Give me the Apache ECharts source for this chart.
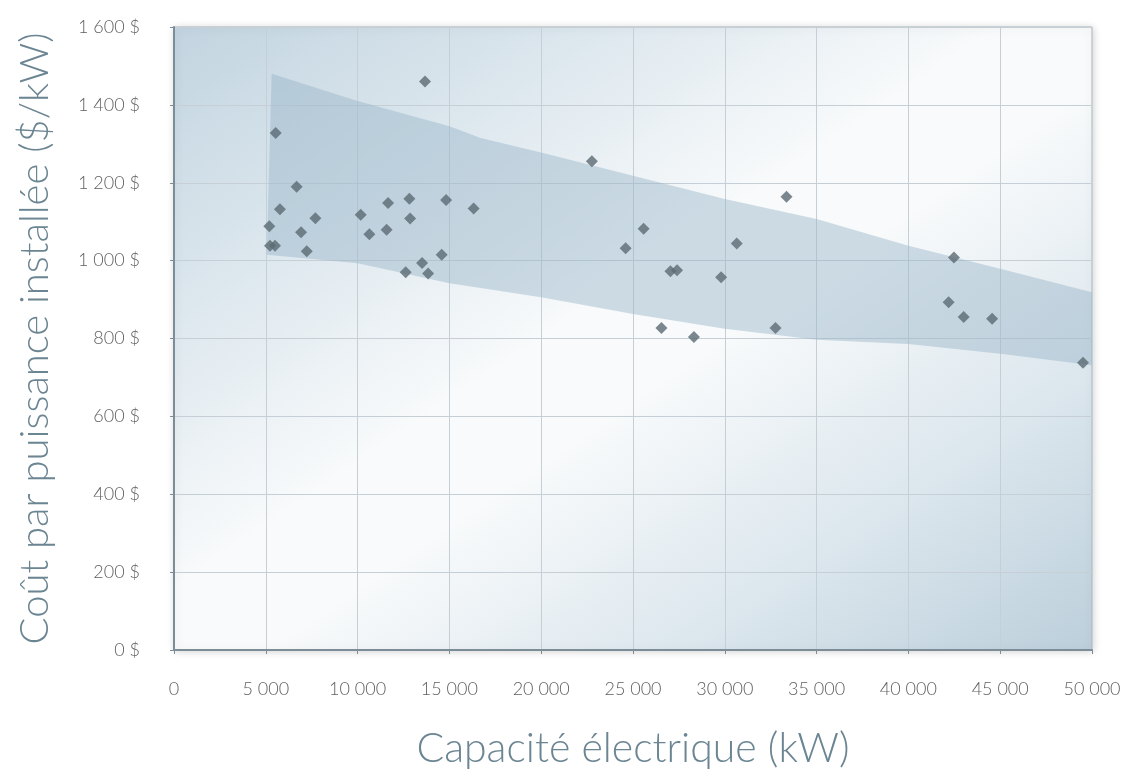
<!DOCTYPE html>
<html>
<head>
<meta charset="utf-8">
<script src="https://cdn.jsdelivr.net/npm/echarts@6/dist/echarts.min.js"></script>
<style>
html,body{margin:0;padding:0;background:#fff;}
#chart{width:1127px;height:781px;}
</style>
</head>
<body>
<div id="chart"></div>
<script>
// Scatter data: capacity (kW) and cost ($/kW)
const capacity = [13670, 5540, 6680, 5770, 5190, 5230, 5500, 6920, 7230, 7700,
  10170, 10640, 11660, 11580, 12820, 12860, 12620, 13510, 13840, 14580, 14820, 16320,
  22760, 25580, 24600, 27040, 27400, 26550, 28320, 29800, 30650, 33360, 32760,
  42480, 42190, 43010, 44560, 49510];
const cost = [1460, 1328, 1190, 1132, 1088, 1038, 1038, 1073, 1024, 1109,
  1118, 1068, 1148, 1079, 1159, 1108, 970, 994, 967, 1015, 1156, 1134,
  1255, 1082, 1032, 973, 975, 827, 804, 957, 1044, 1164, 827,
  1008, 893, 855, 851, 738];

// Band (range) edges
const bandUpperX = [5320, 10000, 15000, 16700, 20000, 25000, 30000, 35000, 40000, 45000, 50000];
const bandUpperY = [1480, 1410, 1345, 1315, 1278, 1218, 1158, 1107, 1038, 979, 919];
const bandLowerX = [5050, 10000, 15000, 20000, 25000, 30000, 35000, 40000, 45000, 50000];
const bandLowerY = [1015, 993, 942, 906, 863, 825, 797, 786, 761, 731];

// Axis ticks
const xTicks = [0, 5000, 10000, 15000, 20000, 25000, 30000, 35000, 40000, 45000, 50000];
const yTicks = [0, 200, 400, 600, 800, 1000, 1200, 1400, 1600];

const fmtSp = v => String(v).replace(/\B(?=(\d{3})+(?!\d))/g, ' ');

const scatterData = capacity.map((c, i) => [c, cost[i]]);
const bandPoly = bandUpperX.map((x, i) => [x, bandUpperY[i]])
  .concat(bandLowerX.map((x, i) => [x, bandLowerY[i]]).reverse());

const chart = echarts.init(document.getElementById('chart'), null, {renderer: 'canvas'});
const fontFam = 'Lato, "Open Sans", sans-serif';
chart.setOption({
  animation: false,
  grid: {
    left: 174, top: 27, right: 35, bottom: 131,
    show: true,
    borderColor: '#a9b6bf',
    borderWidth: 1,
    shadowColor: 'rgba(0,0,0,0.18)',
    shadowBlur: 8,
    shadowOffsetX: 1,
    shadowOffsetY: 1,
    backgroundColor: {
      type: 'linear', x: 0, y: 0, x2: 0.632, y2: 1.368,
      colorStops: [
        {offset: 0, color: '#c2d4e0'},
        {offset: 0.22, color: '#dbe6ed'},
        {offset: 0.45, color: '#f8fafb'},
        {offset: 0.55, color: '#f8fafb'},
        {offset: 0.78, color: '#dbe6ed'},
        {offset: 1, color: '#bccfdb'}
      ]
    }
  },
  xAxis: {
    type: 'value', min: 0, max: 50000, interval: 5000,
    axisLine: {show: true, onZero: false, lineStyle: {color: '#7d8d97', width: 2}},
    axisTick: {show: true, length: 4, lineStyle: {color: '#7d8d97'}},
    splitLine: {show: true, lineStyle: {color: '#c6cfd5', width: 1}},
    axisLabel: {color: '#606060', fontSize: 18, fontFamily: fontFam, fontWeight: 300, margin: 30,
      formatter: v => fmtSp(v)},
    name: 'Capacité électrique (kW)',
    nameLocation: 'middle',
    nameGap: 78,
    nameTextStyle: {color: '#6b8592', fontSize: 41, fontFamily: fontFam, fontWeight: 300}
  },
  yAxis: {
    type: 'value', min: 0, max: 1600, interval: 200,
    axisLine: {show: true, onZero: false, lineStyle: {color: '#7d8d97', width: 2}},
    axisTick: {show: true, length: 4, lineStyle: {color: '#7d8d97'}},
    splitLine: {show: true, lineStyle: {color: '#c6cfd5', width: 1}},
    axisLabel: {color: '#606060', fontSize: 18, fontFamily: fontFam, fontWeight: 300, margin: 34,
      formatter: v => fmtSp(v) + ' $'},
    name: 'Coût par puissance installée ($/kW)',
    nameLocation: 'middle',
    nameGap: 119,
    nameTextStyle: {color: '#6b8592', fontSize: 40, fontFamily: fontFam, fontWeight: 300}
  },
  series: [
    {
      type: 'custom',
      coordinateSystem: 'cartesian2d',
      data: [bandPoly[0]],
      silent: true,
      z: 1,
      renderItem: function (params, api) {
        const pts = bandPoly.map(p => api.coord(p));
        return {
          type: 'polygon',
          shape: {points: pts},
          style: {fill: 'rgba(150,180,200,0.45)'}
        };
      }
    },
    {
      type: 'scatter',
      data: scatterData,
      symbol: 'diamond',
      symbolSize: 12,
      z: 3,
      itemStyle: {color: '#5b6a73'}
    }
  ]
});
</script>
</body>
</html>
